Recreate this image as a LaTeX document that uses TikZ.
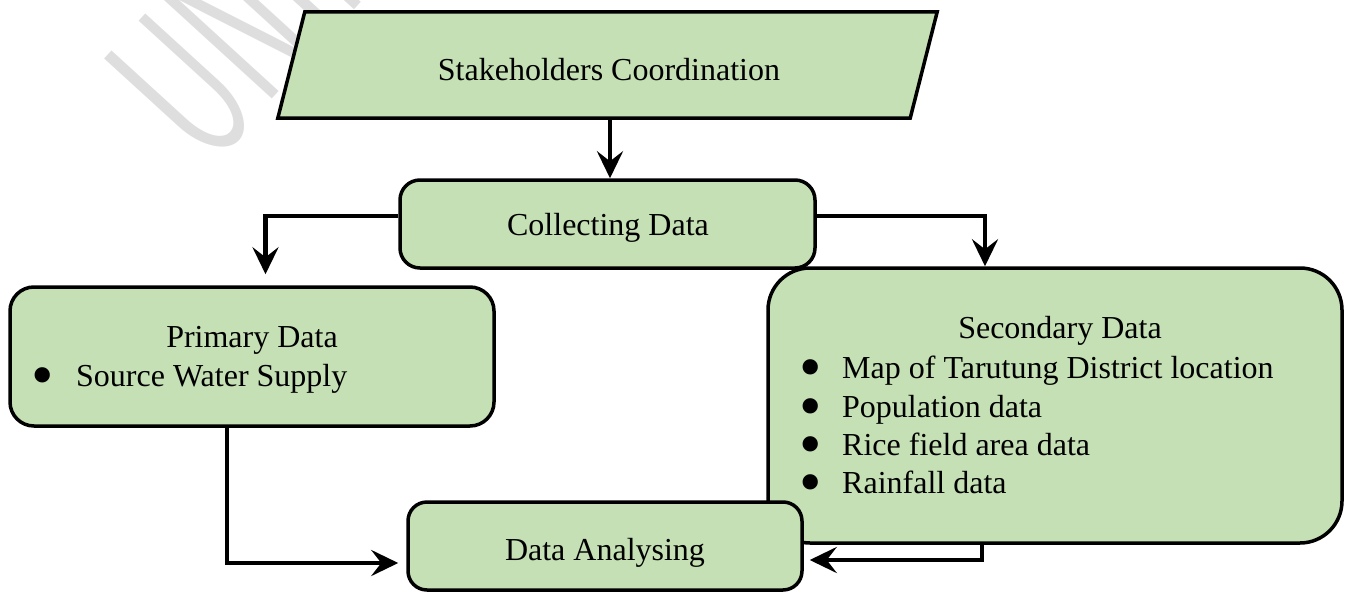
\documentclass[tikz,border=0pt]{standalone}
\usepackage{fontspec}
\setmainfont{Liberation Serif}
\usetikzlibrary{arrows.meta,calc}
\definecolor{boxgreen}{HTML}{C5E0B4}
\newcommand{\bigbul}{\raisebox{-10.5pt}{\scalebox{2}{\textbullet}}}
\begin{document}
\begin{tikzpicture}[x=1pt,y=-1pt,
  box/.style={draw=black, line width=3.5pt, fill=boxgreen, inner sep=0pt},
  conn/.style={draw=black, line width=4.5pt, -{Stealth[length=27pt,width=26pt,inset=10pt]}},
  txt/.style={font=\fontsize{32pt}{38pt}\selectfont, inner sep=0pt},
  wmark/.style={font=\fontsize{218pt}{218pt}\sffamily, text=black!13, inner sep=0pt}]
\useasboundingbox (0,0) rectangle (1345,592);
\begin{scope}
  \clip (0,0) rectangle (1345,592);
  \node[wmark, rotate=47.6, xscale=0.6, anchor=base west] (wm) at (208,170) {UNIMED};
\end{scope}
% boxes
\node[inner sep=0pt, minimum width=605pt, minimum height=106pt] (stake) at (607.5,65) {};
\draw[box, line join=miter] ([xshift=-27pt]stake.south west) -- (stake.north west) -- ([xshift=27pt]stake.north east) -- (stake.south east) -- cycle;
\node[box, rounded corners=42pt, minimum width=574pt, minimum height=275pt] (sec) at (1055,405.5) {};
\node[box, rounded corners=20pt, minimum width=415pt, minimum height=88pt] (collect) at (607.5,224) {};
\node[box, rounded corners=24pt, minimum width=484pt, minimum height=139pt] (prim) at (252,356.5) {};
\node[box, rounded corners=19pt, minimum width=394pt, minimum height=88pt] (anal) at (605,546) {};
% texts
\node[txt, anchor=base] (tstake) at (609,80) {Stakeholders Coordination};
\node[txt, anchor=base] (tcollect) at (608,235) {Collecting Data};
\node[txt, anchor=base] (tprim) at (252,347) {Primary Data};
\node[txt, anchor=base west] (tprima) at (76,386) {\llap{\makebox[66pt]{\bigbul}}Source Water Supply};
\node[txt, anchor=base] (tsec) at (1060,338) {Secondary Data};
\node[txt, anchor=base west] (tseca) at (842,378) {\llap{\makebox[64pt]{\bigbul}}Map of Tarutung District location};
\node[txt, anchor=base west] (tsecb) at (842,417) {\llap{\makebox[64pt]{\bigbul}}Population data};
\node[txt, anchor=base west] (tsecc) at (842,455) {\llap{\makebox[64pt]{\bigbul}}Rice field area data};
\node[txt, anchor=base west] (tsecd) at (842,493) {\llap{\makebox[64pt]{\bigbul}}Rainfall data};
\node[txt, anchor=base] (tanal) at (605,560) {Data Analysing};
% connectors
\draw[conn] ([xshift=2.5pt]stake.south) -- ([xshift=2.5pt]collect.north);
\draw[conn] ([yshift=8pt]collect.west) -| ([xshift=13.5pt,yshift=11pt]prim.north);
\draw[conn] ([yshift=8pt]collect.east) -| ([xshift=-70pt]sec.north);
\draw[conn] ([xshift=-25pt]prim.south) |- ([yshift=-17pt,xshift=-8pt]anal.west);
\draw[conn] ([xshift=-73pt]sec.south) |- ([yshift=-14pt,xshift=6pt]anal.east);
\end{tikzpicture}
\end{document}
